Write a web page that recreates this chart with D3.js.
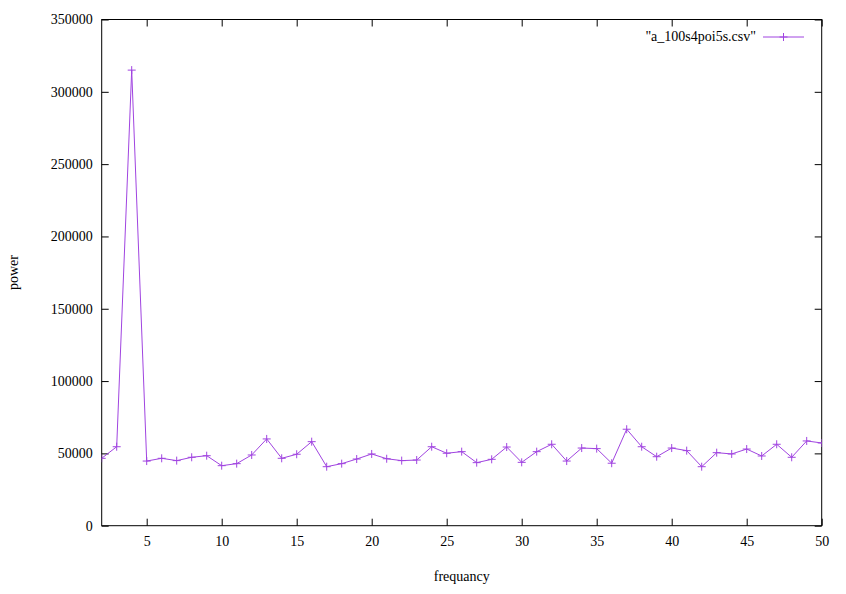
<!DOCTYPE html>
<html>
<head>
<meta charset="utf-8">
<script src="https://cdn.jsdelivr.net/npm/d3@7"></script>
<style>
  body { margin: 0; background: #fff; }
  text { font-family: "Liberation Serif", "Times New Roman", serif; }
</style>
</head>
<body>
<div id="chart"></div>
<script>
// frequency bins and power values
const freqs = d3.range(2, 51);
const power = [46600, 54600, 315000, 44700, 46600, 45000, 47300, 48400, 41500, 42900,
  48900, 60000, 46600, 49400, 58100, 40800, 42900, 46100, 49600, 46300,
  45000, 45400, 54600, 50100, 51200, 43600, 45900, 54400, 43800, 51200,
  56300, 44700, 53700, 53300, 43200, 66700, 54600, 47700, 53700, 51900,
  40800, 50500, 49600, 53000, 48200, 56300, 47300, 58600, 57200];
const xTicks = [5, 10, 15, 20, 25, 30, 35, 40, 45, 50];
const yTicks = [0, 50000, 100000, 150000, 200000, 250000, 300000, 350000];
const seriesName = '"a_100s4poi5s.csv"';

const data = freqs.map((f, i) => ({f: f, p: power[i]}));

const width = 846, height = 594;
const margin = {top: 19.5, right: 24.3, bottom: 68.3, left: 101.7};
const w = width - margin.left - margin.right;
const h = height - margin.top - margin.bottom;
const color = '#a044e0';

const svg = d3.select('#chart')
  .append('svg')
  .attr('width', width)
  .attr('height', height);

const g = svg.append('g')
  .attr('transform', `translate(${margin.left}, ${margin.top})`);

const x = d3.scaleLinear().domain([2, 50]).range([0, w]);
const y = d3.scaleLinear().domain([0, 350000]).range([h, 0]);
const fmt = d3.format('d');

// axes with inward ticks, mirrored on top and right like gnuplot
g.append('g')
  .attr('transform', `translate(0, ${h})`)
  .call(d3.axisBottom(x).tickValues(xTicks).tickFormat(fmt).tickSizeInner(-7).tickSizeOuter(0).tickPadding(10));
g.append('g')
  .call(d3.axisLeft(y).tickValues(yTicks).tickFormat(fmt).tickSizeInner(-7).tickSizeOuter(0).tickPadding(9));
g.append('g')
  .call(d3.axisTop(x).tickValues(xTicks).tickSizeInner(-7).tickSizeOuter(0).tickFormat(''));
g.append('g')
  .attr('transform', `translate(${w}, 0)`)
  .call(d3.axisRight(y).tickValues(yTicks).tickSizeInner(-7).tickSizeOuter(0).tickFormat(''));

g.selectAll('.domain').remove();
g.selectAll('.tick line').attr('stroke', '#000');
g.selectAll('.tick text')
  .attr('fill', '#000')
  .attr('font-family', '"Liberation Serif", serif')
  .style('font-size', '14px');

// border
g.append('rect')
  .attr('width', w)
  .attr('height', h)
  .attr('fill', 'none')
  .attr('stroke', '#000')
  .attr('stroke-width', 1);

// clip so the line stays in the frame
g.append('clipPath').attr('id', 'clip')
  .append('rect').attr('width', w).attr('height', h);

const line = d3.line().x(d => x(d.f)).y(d => y(d.p));
g.append('path')
  .datum(data)
  .attr('clip-path', 'url(#clip)')
  .attr('fill', 'none')
  .attr('stroke', color)
  .attr('stroke-width', 1)
  .attr('d', line);

// plus markers
const ps = 4;
g.selectAll('.pt')
  .data(data)
  .enter()
  .append('path')
  .attr('class', 'pt')
  .attr('clip-path', 'url(#clip)')
  .attr('fill', 'none')
  .attr('stroke', color)
  .attr('stroke-width', 1)
  .attr('d', d => `M${x(d.f) - ps},${y(d.p)}H${x(d.f) + ps}M${x(d.f)},${y(d.p) - ps}V${y(d.p) + ps}`);

// legend
const lg = svg.append('g');
lg.append('text')
  .attr('x', 756)
  .attr('y', 37)
  .attr('dy', '0.32em')
  .attr('text-anchor', 'end')
  .style('font-size', '14px')
  .text(seriesName);
lg.append('line')
  .attr('x1', 763).attr('x2', 804)
  .attr('y1', 37).attr('y2', 37)
  .attr('stroke', color);
lg.append('path')
  .attr('fill', 'none')
  .attr('stroke', color)
  .attr('d', `M${783.5 - ps},37H${783.5 + ps}M783.5,${37 - ps}V${37 + ps}`);

// axis labels
svg.append('text')
  .attr('transform', `translate(${margin.left + w / 2}, 577)`)
  .attr('text-anchor', 'middle')
  .attr('dy', '0.32em')
  .style('font-size', '14px')
  .text('frequancy');
svg.append('text')
  .attr('transform', `translate(14, ${margin.top + h / 2}) rotate(-90)`)
  .attr('text-anchor', 'middle')
  .attr('dy', '0.32em')
  .style('font-size', '14px')
  .text('power');
</script>
</body>
</html>
